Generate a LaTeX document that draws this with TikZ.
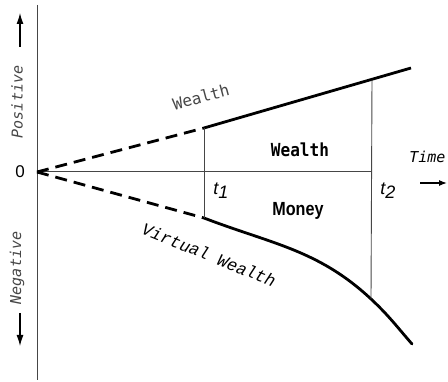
\documentclass[tikz,border=0pt]{standalone}
\usepackage{fontspec}
\setmainfont{Liberation Sans}
\newfontfamily\monofont{DejaVu Sans Mono}
\newfontfamily\courfont{Liberation Mono}
\usetikzlibrary{arrows.meta,positioning,calc}
\definecolor{AxisGray}{RGB}{70,70,70}
\tikzset{
  axisline/.style={draw=AxisGray,line width=1pt},
  guide/.style={draw=AxisGray,line width=0.9pt},
  wealthline/.style={draw=black,line width=2.8pt},
  dashedline/.style={draw=black,line width=2.8pt,dash pattern=on 12pt off 7pt},
  sidelabel/.style={font=\monofont\itshape\fontsize{15}{15}\selectfont,rotate=90,
    text=AxisGray},
  boldlabel/.style={font=\bfseries\fontsize{19}{19}\selectfont,xscale=0.85},
  tlabel/.style={font=\fontsize{18}{18}\selectfont},
  arrow/.style={-{Latex[length=11pt,width=7pt]},line width=1.2pt,black}
}
\begin{document}
\begin{tikzpicture}[x=1pt,y=1pt]
  \useasboundingbox (0,0) rectangle (448,382);
  % axes
  \coordinate (O) at (37,210);
  \coordinate (top) at (37,377);
  \coordinate (bottom) at (37,2);
  \coordinate (xend) at (372,210);
  \draw[axisline] (top) -- (bottom);
  \draw[axisline] (O) -- (xend);
  % wealth and virtual wealth
  \coordinate (A1) at (204,254);
  \coordinate (A2) at (372,302);
  \coordinate (A3) at (411,314);
  \coordinate (B1) at (204,164);
  \coordinate (B2) at (371,83);
  \coordinate (B3) at (412,38);
  \draw[dashedline] (O) -- (A1);
  \draw[dashedline] (O) -- (B1);
  \draw[wealthline] (A1) -- (A3);
  \draw[wealthline,line cap=round] (B1) to[out=-21,in=137] (B2) to[out=-43,in=131] (B3);
  % time marks
  \draw[guide] (A1) -- (B1);
  \draw[guide] (A2) -- (B2);
  \node[tlabel] (t1) at (221,191) {\itshape t\raisebox{-0.45ex}{1}};
  \node[tlabel] (t2) at (388,191) {\itshape t\raisebox{-0.45ex}{2}};
  % labels
  \node[font=\fontsize{17}{17}\selectfont] (zero) at (20,210) {0};
  \node[font=\monofont\fontsize{16}{16}\selectfont,rotate=15,text=AxisGray] (wl) at (201,285) {Wealth};
  \node[font=\courfont\itshape\fontsize{17}{17}\selectfont,rotate=-22] (vw) at (209,127) {Virtual Wealth};
  \node[boldlabel,font=\monofont\bfseries\fontsize{18}{18}\selectfont,xscale=1.05] (wbox) at (300,232) {Wealth};
  \node[boldlabel] (money) at (298,171) {Money};
  \node[sidelabel] (pos) at (17,280) {Positive};
  \node[sidelabel] (neg) at (17,114) {Negative};
  \node[font=\monofont\itshape\fontsize{15}{15}\selectfont,anchor=east] (time) at (449,225) {Time};
  \coordinate (upfrom) at (20,335);
  \coordinate (upto) at (20,369);
  \coordinate (downfrom) at (20,69);
  \coordinate (downto) at (20,36);
  \coordinate (tfrom) at (420,199);
  \coordinate (tto) at (447,199);
  \draw[arrow] (upfrom) -- (upto);
  \draw[arrow] (downfrom) -- (downto);
  \draw[arrow,-{Latex[length=8pt,width=6pt]}] (tfrom) -- (tto);
\end{tikzpicture}
\end{document}
